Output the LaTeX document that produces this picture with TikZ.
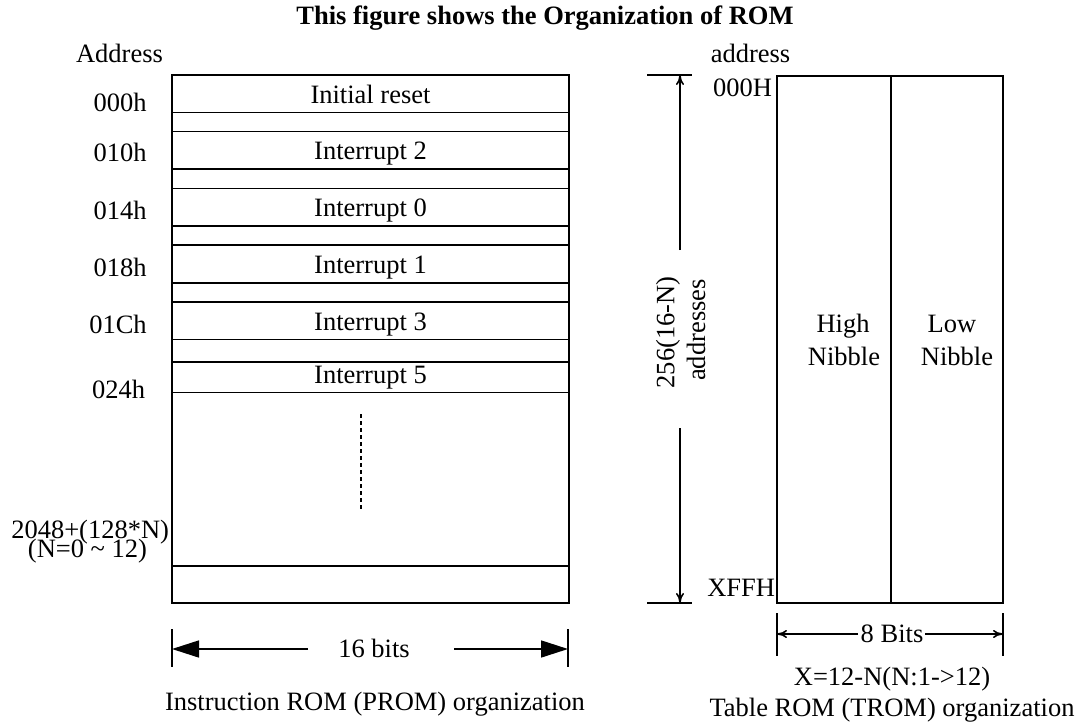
\documentclass[tikz,border=0pt]{standalone}
\usepackage{fontspec}
\setmainfont{Liberation Serif}
\usetikzlibrary{arrows.meta}
\begin{document}
\begin{tikzpicture}[x=1pt,y=-1pt,
  every node/.style={font=\fontsize{26.5}{32}\selectfont, inner sep=0pt, outer sep=0pt},
  lbl/.style={anchor=base},
  frame/.style={draw, line width=1.6pt},
  rowbox/.style={frame, minimum width=397pt, minimum height=37.6pt,
                 text height=19pt, text depth=0pt, anchor=north west},
  colbox/.style={frame, minimum height=527pt, anchor=north west},
  tick/.style={line width=1.6pt},
  bigarrow/.style={line width=1.6pt, -{Triangle[length=27pt,width=17pt]}},
  smallarrow/.style={line width=1.6pt, -{To[length=10pt,width=8pt]}},
  dotline/.style={line width=2pt, dash pattern=on 4pt off 3pt}]
\useasboundingbox (0,0) rectangle (1081,722);

% title
\node[lbl, font=\fontsize{26.5}{32}\selectfont\bfseries] (title) at (545,25)
  {This figure shows the Organization of ROM};

% ---------------- instruction ROM ----------------
\node[frame, minimum width=397pt, minimum height=528pt, anchor=north west] (prom) at (172,75) {};
\node[rowbox] (r0) at (172,75)    {Initial reset};
\node[rowbox] (r1) at (172,131.7) {Interrupt 2};
\node[rowbox] (r2) at (172,188.4) {Interrupt 0};
\node[rowbox] (r3) at (172,245.1) {Interrupt 1};
\node[rowbox] (r4) at (172,301.8) {Interrupt 3};
\node[rowbox, minimum height=30.6pt, text height=12pt] (r5) at (172,361.7) {Interrupt 5};
\node[rowbox, minimum height=37pt, anchor=south west] (rlast) at (172,603) {};

\coordinate (dotA) at (361,414);
\coordinate (dotB) at (361,511);
\draw[dotline] (dotA) -- (dotB);

% address column
\node[lbl] (addrL) at (119.5,63) {Address};
\node[lbl] (a0) at (120,112) {000h};
\node[lbl] (a1) at (120,162) {010h};
\node[lbl] (a2) at (120,219) {014h};
\node[lbl] (a3) at (120,276) {018h};
\node[lbl] (a4) at (118,333) {01Ch};
\node[lbl] (a5) at (118.5,398) {024h};
\node[anchor=base east] (aN) at (169,538) {2048+(128*N)};
\node[lbl] (aNr) at (87.5,557) {(N=0 \textasciitilde{} 12)};

% width dimension
\coordinate (wL1) at (172,629); \coordinate (wL2) at (172,667);
\coordinate (wR1) at (568,629); \coordinate (wR2) at (568,667);
\draw[tick] (wL1) -- (wL2);
\draw[tick] (wR1) -- (wR2);
\coordinate (wL) at (172,649); \coordinate (wR) at (568,649);
\coordinate (wLs) at (308,649); \coordinate (wRs) at (454,649);
\draw[bigarrow] (wLs) -- (wL);
\draw[bigarrow] (wRs) -- (wR);
\node[lbl] (bits16) at (374,657) {16 bits};
\node[lbl] (promcap) at (375,710) {Instruction ROM (PROM) organization};

% ---------------- table ROM ----------------
\node[colbox, minimum width=114pt] (hi) at (777,76) {};
\node[colbox, minimum width=112pt] (lo) at (891,76) {};
\node[lbl] (hiA) at (843,332) {High};
\node[lbl] (hiB) at (844,365) {Nibble};
\node[lbl] (loA) at (952,332) {Low};
\node[lbl] (loB) at (957,365) {Nibble};

\node[lbl] (addrR) at (750.5,62.5) {address};
\node[anchor=base east] (t0) at (772,97) {000H};
\node[anchor=base east] (tF) at (775,596) {XFFH};

% height dimension
\coordinate (hT1) at (647,75); \coordinate (hT2) at (692,75);
\coordinate (hB1) at (647,603); \coordinate (hB2) at (692,603);
\draw[tick] (hT1) -- (hT2);
\draw[tick] (hB1) -- (hB2);
\coordinate (hT) at (680,75); \coordinate (hB) at (680,603);
\coordinate (hTs) at (680,250); \coordinate (hBs) at (680,428);
\draw[smallarrow] (hTs) -- (hT);
\draw[smallarrow] (hBs) -- (hB);
\node[rotate=90] (cnt) at (668,332.5) {256(16-N)};
\node[rotate=90] (cntb) at (696,330) {addresses};

% width dimension
\coordinate (bL1) at (777,613); \coordinate (bL2) at (777,656);
\coordinate (bR1) at (1003,613); \coordinate (bR2) at (1003,656);
\draw[tick] (bL1) -- (bL2);
\draw[tick] (bR1) -- (bR2);
\coordinate (bL) at (777,634); \coordinate (bR) at (1003,634);
\coordinate (bLs) at (858,634); \coordinate (bRs) at (925,634);
\draw[smallarrow] (bLs) -- (bL);
\draw[smallarrow] (bRs) -- (bR);
\node[lbl] (bits8) at (892,642) {8 Bits};
\node[lbl] (xform) at (892,685) {X=12-N(N:1->12)};
\node[lbl] (tromcap) at (892,716) {Table ROM (TROM) organization};
\end{tikzpicture}
\end{document}
